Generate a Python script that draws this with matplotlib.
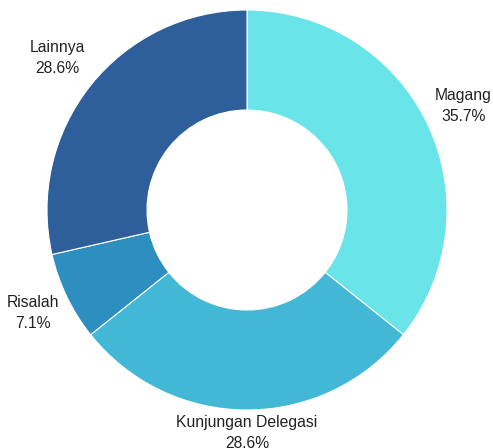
import numpy as np
import matplotlib
matplotlib.use("Agg")
import matplotlib.pyplot as plt

categories = ["Magang", "Kunjungan Delegasi", "Risalah", "Lainnya"]
values = [5, 4, 1, 4]
colors = ["#69E4E8", "#42B7D6", "#2D8EC0", "#2E5F9B"]
label_dist = [1.2, 1.115, 1.19, 1.215]

plt.rcParams['font.family'] = ['Liberation Sans', 'DejaVu Sans']

fig = plt.figure(figsize=(4.93, 4.48), dpi=100)
ax = fig.add_axes([0, 0, 1, 1])
wedges, _ = ax.pie(values, colors=colors, startangle=90, counterclock=False,
                   radius=1.0, wedgeprops=dict(width=0.5, edgecolor="white", linewidth=0.8))
total = sum(values)
for w, cat, v, d in zip(wedges, categories, values, label_dist):
    ang = np.deg2rad((w.theta1 + w.theta2) / 2)
    x, y = d * np.cos(ang), d * np.sin(ang)
    ax.text(x, y, f"{cat}\n{100*v/total:.1f}%", ha="center", va="center",
            fontsize=11.3, color="#222222", linespacing=1.5)
ax.set_xlim(-247/200, 246/200)
ax.set_ylim(-238/200, 210/200)
ax.set_aspect("auto")
ax.axis("off")
fig.savefig("out.png", dpi=100)
